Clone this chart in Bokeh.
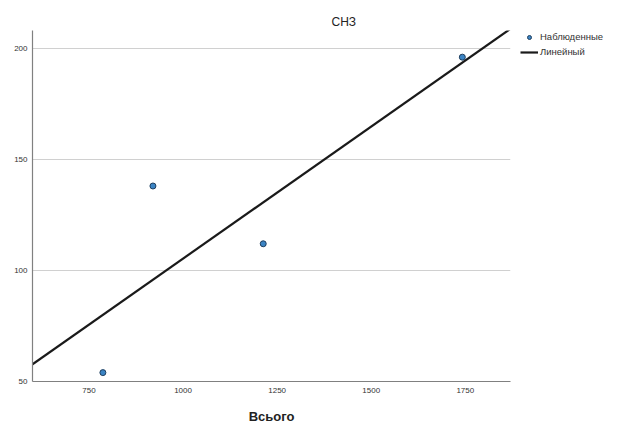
import numpy as np
from bokeh.plotting import figure
from bokeh.models import Range1d, Legend, LegendItem, FixedTicker, Title
from bokeh.embed import file_html
from bokeh.resources import INLINE

# Data
x_total = [787, 920, 1213, 1742]
y_snz = [54, 138, 112, 196]
x_ticks = [750, 1000, 1250, 1500, 1750]
y_ticks = [50, 100, 150, 200]
x_limits = [600, 1870]
y_limits = [50, 208]

slope, intercept = np.polyfit(x_total, y_snz, 1)
line_x = list(x_limits)
line_y = [slope * v + intercept for v in line_x]

p = figure(frame_width=478, frame_height=351, output_backend="svg", toolbar_location=None,
           x_range=Range1d(*x_limits), y_range=Range1d(*y_limits),
           min_border_left=32, min_border_top=30, min_border_bottom=40, min_border_right=105)
p.background_fill_color = "white"
p.border_fill_color = "white"
p.outline_line_color = None

p.title = Title(text="СНЗ", align="left", offset=299, text_font="Liberation Sans",
                text_font_size="12px", text_font_style="normal", text_color="#222222",
                standoff=4)

p.xgrid.grid_line_color = None
p.ygrid.grid_line_color = "#d0d0d0"
p.ygrid.grid_line_width = 1

for ax in (p.xaxis[0], p.yaxis[0]):
    ax.axis_line_color = "#808080"
    ax.axis_line_width = 1.2
    ax.major_tick_line_color = None
    ax.minor_tick_line_color = None
    ax.major_tick_in = 0
    ax.major_tick_out = 0
    ax.major_label_text_font = "Liberation Sans"
    ax.major_label_text_font_size = "8px"
    ax.major_label_text_color = "#333333"

p.xaxis.ticker = FixedTicker(ticks=x_ticks)
p.yaxis.ticker = FixedTicker(ticks=y_ticks)
p.xaxis.major_label_standoff = 6
p.yaxis.major_label_standoff = 5
p.xaxis.axis_label = "Всього"
p.xaxis.axis_label_text_font = "Liberation Sans"
p.xaxis.axis_label_text_font_size = "13px"
p.xaxis.axis_label_text_font_style = "bold"
p.xaxis.axis_label_text_color = "#222222"
p.xaxis.axis_label_standoff = 13

ln = p.line(line_x, line_y, line_color="#1a1a1a", line_width=2.2)
sc = p.scatter(x_total, y_snz, size=6, marker="circle", fill_color="#3b84c4",
               line_color="#1f3f5f", line_width=1)

legend = Legend(items=[LegendItem(label="Наблюденные", renderers=[sc]),
                       LegendItem(label="Линейный", renderers=[ln])],
                location=(10, 324), border_line_color=None,
                label_text_font="Liberation Sans", label_text_font_size="9.5px",
                label_text_color="#333333", glyph_width=18, glyph_height=10,
                spacing=4, padding=0, margin=0, label_standoff=2,
                label_height=10, background_fill_alpha=0)
p.add_layout(legend, "right")

open("out.html", "w").write(file_html(p, INLINE))
